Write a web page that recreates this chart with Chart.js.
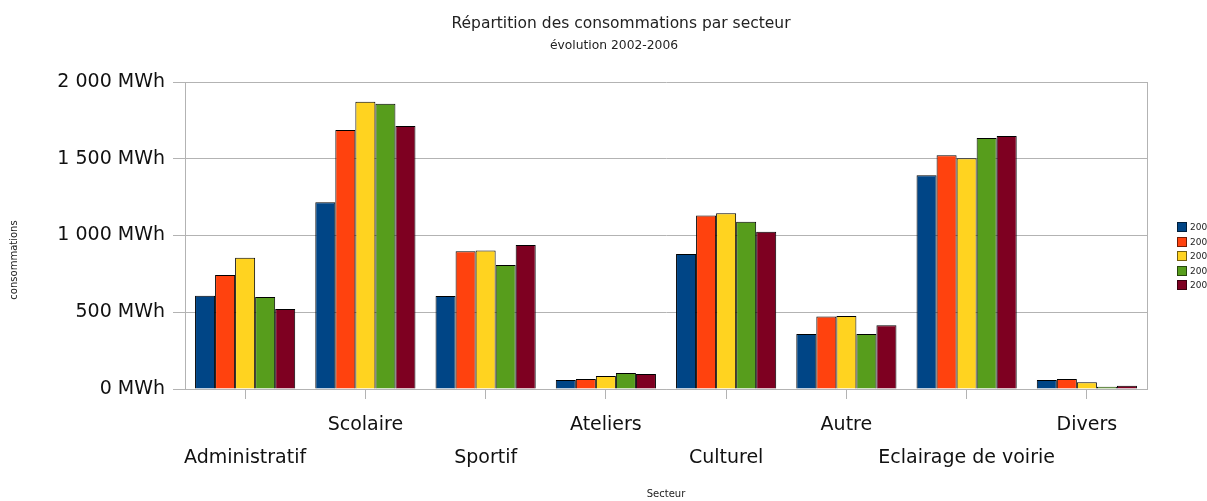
<!DOCTYPE html>
<html>
<head>
<meta charset="utf-8">
<script src="https://cdn.jsdelivr.net/npm/chart.js@4/dist/chart.umd.min.js"></script>
<style>
html,body{margin:0;padding:0;background:#fff;}
#wrap{width:1207px;height:501px;position:relative;}
#legend{position:absolute;left:1177px;top:222px;font-family:'DejaVu Sans',sans-serif;font-size:9px;color:#222;}
#legend .it{height:14.5px;display:flex;align-items:flex-start;white-space:nowrap;}
#legend .sw{width:8px;height:8px;border:1px solid rgba(0,0,0,0.55);margin-right:3px;margin-top:0px;}
#legend .tx{line-height:10px;}
</style>
</head>
<body>
<div id="wrap"><canvas id="c" width="1207" height="501"></canvas><div id="legend"></div></div>
<script>
const categories = ["Administratif","Scolaire","Sportif","Ateliers","Culturel","Autre","Eclairage de voirie","Divers"];
const seriesNames = ["200","200","200","200","200"];
const s2002 = [608,1216,606,59,880,358,1392,59];
const s2003 = [743,1687,897,65,1131,473,1522,65];
const s2004 = [855,1872,903,85,1145,475,1503,44];
const s2005 = [599,1859,808,104,1090,358,1635,15];
const s2006 = [521,1713,938,98,1025,415,1648,21];
const colors = ["#004586","#ff420e","#ffd320","#579d1c","#7e0021"];
const yTicks = [0,500,1000,1500,2000];
const titleText = 'Répartition des consommations par secteur';
const subtitleText = 'évolution 2002-2006';
const yTitleText = 'consommations';
const xTitleText = 'Secteur';

const FONT = "'DejaVu Sans', sans-serif";
const allSeries = [s2002,s2003,s2004,s2005,s2006];

// HTML legend (real text)
const lg = document.getElementById('legend');
seriesNames.forEach((n,i)=>{
  const it = document.createElement('div'); it.className='it';
  const sw = document.createElement('div'); sw.className='sw'; sw.style.background = colors[i];
  const tx = document.createElement('span'); tx.className='tx'; tx.textContent = n;
  it.appendChild(sw); it.appendChild(tx); lg.appendChild(it);
});

const boxPlugin = {
  id:'box',
  afterDraw(chart){
    const a = chart.chartArea, ctx = chart.ctx;
    ctx.save();
    ctx.strokeStyle = '#b3b3b3';
    ctx.lineWidth = 1;
    ctx.beginPath();
    ctx.moveTo(Math.round(a.right)+0.5, a.top);
    ctx.lineTo(Math.round(a.right)+0.5, a.bottom);
    ctx.stroke();
    ctx.fillStyle = '#222';
    ctx.textAlign = 'center';
    ctx.textBaseline = 'middle';
    // titles
    ctx.font = "15.5px " + FONT;
    ctx.fillText(titleText, 621, 24);
    ctx.font = "12.3px " + FONT;
    ctx.fillText(subtitleText, 614, 46);
    // y axis title
    ctx.translate(14, 260);
    ctx.rotate(-Math.PI/2);
    ctx.font = "10px " + FONT;
    ctx.fillText(yTitleText, 0, 0);
    ctx.restore();
  }
};

new Chart(document.getElementById('c'), {
  type:'bar',
  data:{
    labels: categories,
    datasets: allSeries.map((d,i)=>({
      label: seriesNames[i],
      data: d,
      backgroundColor: colors[i],
      borderColor: '#000',
      borderWidth: 1,
      categoryPercentage: 0.833,
      barPercentage: 1.0
    }))
  },
  options:{
    responsive:false,
    animation:false,
    layout:{padding:{top:82,right:60,bottom:0,left:0}},
    plugins:{
      title:{display:false},
      subtitle:{display:false},
      legend:{display:false},
      tooltip:{enabled:false}
    },
    scales:{
      x:{
        afterFit:function(axis){ axis.height = 112; },
        grid:{display:true,drawOnChartArea:false,drawTicks:true,tickLength:10,color:'#b3b3b3',offset:false},
        border:{display:true,color:'#b3b3b3'},
        ticks:{
          color:'#111',font:{family:FONT,size:19,lineHeight:1.75},maxRotation:0,autoSkip:false,padding:9,
          callback:function(v,i){ return i%2===0 ? ['', categories[i]] : [categories[i], '']; }
        },
        title:{display:true,text:xTitleText,color:'#222',font:{family:FONT,size:10},padding:{top:6,bottom:1}}
      },
      y:{
        min:0,max:2000,
        afterFit:function(axis){ axis.width = 185; },
        afterBuildTicks:function(axis){ axis.ticks = yTicks.map(v=>({value:v})); },
        grid:{color:'#b3b3b3',tickLength:12,drawTicks:true},
        border:{display:true,color:'#b3b3b3'},
        ticks:{color:'#111',font:{family:FONT,size:19},padding:8,
          callback:function(v){ return String(v).replace(/\B(?=(\d{3})+(?!\d))/g,' ') + ' MWh'; }}
      }
    }
  },
  plugins:[boxPlugin]
});
</script>
</body>
</html>
